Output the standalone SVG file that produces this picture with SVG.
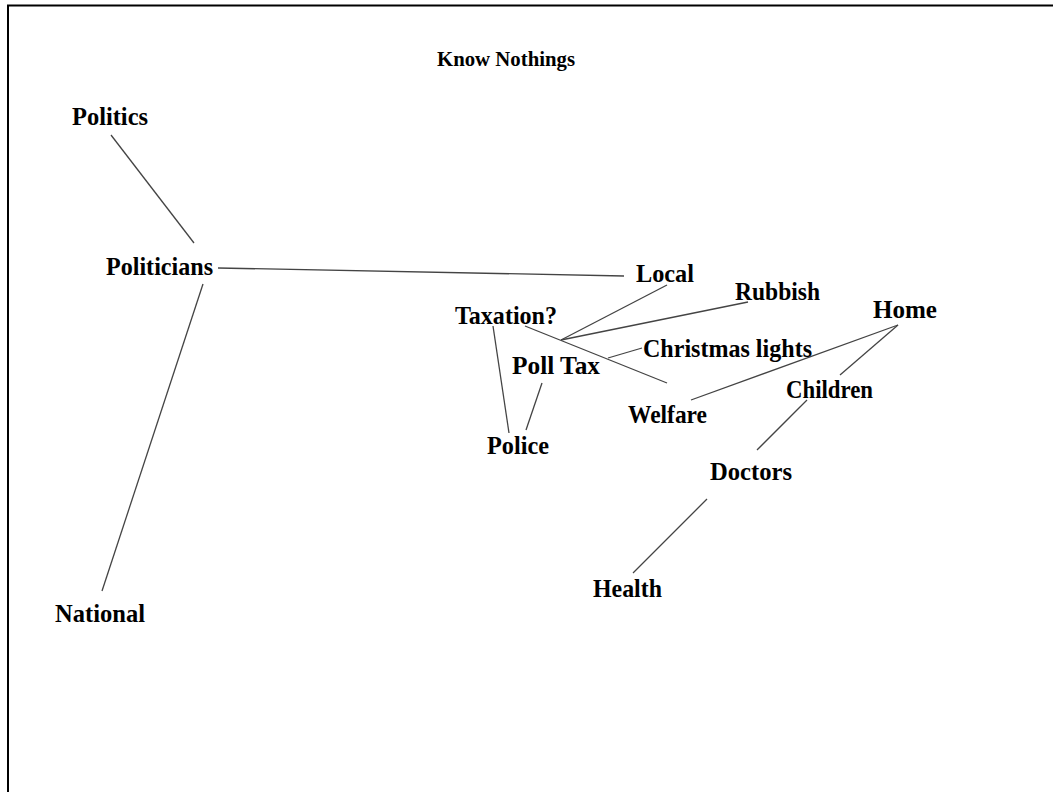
<svg xmlns="http://www.w3.org/2000/svg" width="1053" height="792" viewBox="0 0 1053 792">
<style>
text{font-family:"Liberation Serif","Times New Roman",serif;font-weight:bold;font-size:25px;fill:#000}
.c line{stroke:#444;stroke-width:1.3}
</style>
<rect width="1053" height="792" fill="#fff"/>
<path d="M8 792 V5.5 H1053" fill="none" stroke="#000" stroke-width="2"/>
<text x="437" y="66" style="font-size:22px" textLength="138" lengthAdjust="spacingAndGlyphs">Know Nothings</text>
<g class="c" id="connectors">
<line x1="111" y1="135" x2="194" y2="243"/>
<line x1="218" y1="268" x2="624" y2="276"/>
<line x1="203" y1="284" x2="102" y2="591"/>
<line x1="667" y1="285" x2="561" y2="340"/>
<line x1="748" y1="302" x2="561" y2="340"/>
<line x1="525" y1="326" x2="667" y2="383"/>
<line x1="642" y1="348" x2="608" y2="358"/>
<line x1="493" y1="326" x2="509" y2="433"/>
<line x1="542" y1="383" x2="526" y2="430"/>
<line x1="691" y1="400" x2="898" y2="325"/>
<line x1="898" y1="325" x2="840" y2="375"/>
<line x1="807" y1="400" x2="757" y2="450"/>
<line x1="707" y1="499" x2="633" y2="573"/>
</g>
<g id="politics"><text x="72" y="125" textLength="76" lengthAdjust="spacingAndGlyphs">Politics</text></g>
<g id="politicians"><text x="106" y="275" textLength="107" lengthAdjust="spacingAndGlyphs">Politicians</text></g>
<g id="national"><text x="55" y="622" textLength="90" lengthAdjust="spacingAndGlyphs">National</text></g>
<g id="local"><text x="636" y="282" textLength="58" lengthAdjust="spacingAndGlyphs">Local</text></g>
<g id="rubbish"><text x="735" y="300" textLength="85" lengthAdjust="spacingAndGlyphs">Rubbish</text></g>
<g id="taxation"><text x="455" y="324" textLength="102" lengthAdjust="spacingAndGlyphs">Taxation?</text></g>
<g id="christmas"><text x="643" y="357" textLength="169" lengthAdjust="spacingAndGlyphs">Christmas lights</text></g>
<g id="polltax"><text x="512" y="374" textLength="88" lengthAdjust="spacingAndGlyphs">Poll Tax</text></g>
<g id="welfare"><text x="628" y="423" textLength="79" lengthAdjust="spacingAndGlyphs">Welfare</text></g>
<g id="home"><text x="873" y="318" textLength="64" lengthAdjust="spacingAndGlyphs">Home</text></g>
<g id="children"><text x="786" y="398" textLength="87" lengthAdjust="spacingAndGlyphs">Children</text></g>
<g id="police"><text x="487" y="454" textLength="62" lengthAdjust="spacingAndGlyphs">Police</text></g>
<g id="doctors"><text x="710" y="480" textLength="82" lengthAdjust="spacingAndGlyphs">Doctors</text></g>
<g id="health"><text x="593" y="597" textLength="69" lengthAdjust="spacingAndGlyphs">Health</text></g>
</svg>
